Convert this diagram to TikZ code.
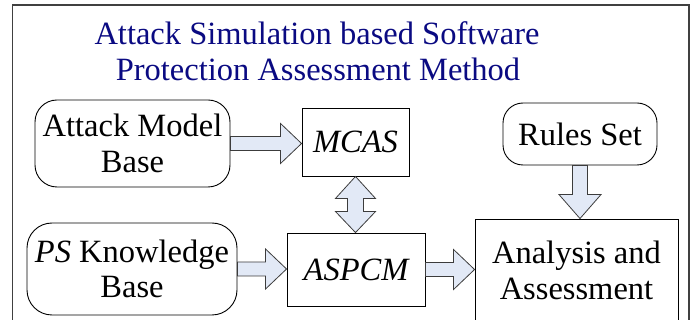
\documentclass[tikz,border=0pt]{standalone}
\usepackage{fontspec}
\setmainfont{Liberation Serif}
\usetikzlibrary{calc}

\definecolor{arrowfill}{RGB}{226,233,246}
\definecolor{arrowline}{RGB}{60,60,60}
\definecolor{titleblue}{RGB}{10,10,130}

\tikzset{
  lbl/.style={font=\fontsize{32.5}{35.5}\selectfont, align=center, inner sep=0pt},
  squarebox/.style={lbl, draw=black, line width=0.9pt},
  roundbox/.style={squarebox, rounded corners=22pt},
  blockarrow/.style={draw=arrowline, fill=arrowfill, line width=0.8pt, line join=miter},
  % block arrow pointing right, drawn at the height of the start point
  rarrow/.style={blockarrow, to path={
    let \p1=(\tikztostart), \p2=(\tikztotarget) in
    (\x1,\y1+7pt) -- (\x2-21pt,\y1+7pt) -- (\x2-21pt,\y1+20pt) -- (\x2,\y1)
    -- (\x2-21pt,\y1-20pt) -- (\x2-21pt,\y1-7pt) -- (\x1,\y1-7pt) -- cycle}},
  % block arrow pointing down, drawn at the abscissa of the start point
  darrow/.style={blockarrow, to path={
    let \p1=(\tikztostart), \p2=(\tikztotarget) in
    (\x1-7.5pt,\y1) -- (\x1-7.5pt,\y2+24pt) -- (\x1-21pt,\y2+24pt) -- (\x1,\y2)
    -- (\x1+21pt,\y2+24pt) -- (\x1+7.5pt,\y2+24pt) -- (\x1+7.5pt,\y1) -- cycle}},
  % vertical double-headed block arrow
  udarrow/.style={blockarrow, to path={
    let \p1=(\tikztostart), \p2=(\tikztotarget) in
    (\x1,\y1) -- (\x1+20pt,\y1-22pt) -- (\x1+8pt,\y1-22pt) -- (\x1+8pt,\y2+21pt)
    -- (\x1+20pt,\y2+21pt) -- (\x1,\y2) -- (\x1-20pt,\y2+21pt) -- (\x1-8pt,\y2+21pt)
    -- (\x1-8pt,\y1-22pt) -- (\x1-20pt,\y1-22pt) -- cycle}},
}

\begin{document}
\begin{tikzpicture}[x=1pt,y=-1pt]
  \useasboundingbox (0,0) rectangle (694,320);
  \clip (0,0) rectangle (694,320);

  % outer frame (open at the bottom)
  \draw[line width=1.2pt, draw=black!75] (12.5,340) -- (12.5,5) -- (689,5) -- (689,340);

  % title
  \node[lbl, text=titleblue, anchor=base] (title1) at (317,45) {Attack Simulation based Software};
  \node[lbl, text=titleblue, anchor=base] (title2) at (318,81) {Protection Assessment Method};

  % boxes
  \node[roundbox, minimum width=195pt, minimum height=87pt] (amb) at (132.5,143.5) {Attack Model\\Base};
  \node[squarebox, minimum width=107pt, minimum height=68pt] (mcas) at (355.5,142) {\itshape MCAS};
  \node[roundbox, rounded corners=20pt, minimum width=154pt, minimum height=62pt] (rules) at (580,134) {Rules Set};
  \node[roundbox, rounded corners=25pt, minimum width=210pt, minimum height=92pt] (psk) at (132,269) {\textit{PS} Knowledge\\Base};
  \node[squarebox, minimum width=138pt, minimum height=73pt] (aspcm) at (356,269.5) {\itshape ASPCM};
  \node[squarebox, minimum width=203pt, minimum height=103pt] (ana) at (576.5,270.5) {Analysis and\\Assessment};

  % block arrows between the boxes
  \draw[rarrow] (amb.east) to (mcas.west);
  \draw[rarrow] (psk.east) to (aspcm.west);
  \draw[rarrow] (aspcm.east) to (ana.west);
  \draw[darrow] (rules.south) to (ana.north);
  \draw[udarrow] (mcas.south) to (aspcm.north);
\end{tikzpicture}
\end{document}
